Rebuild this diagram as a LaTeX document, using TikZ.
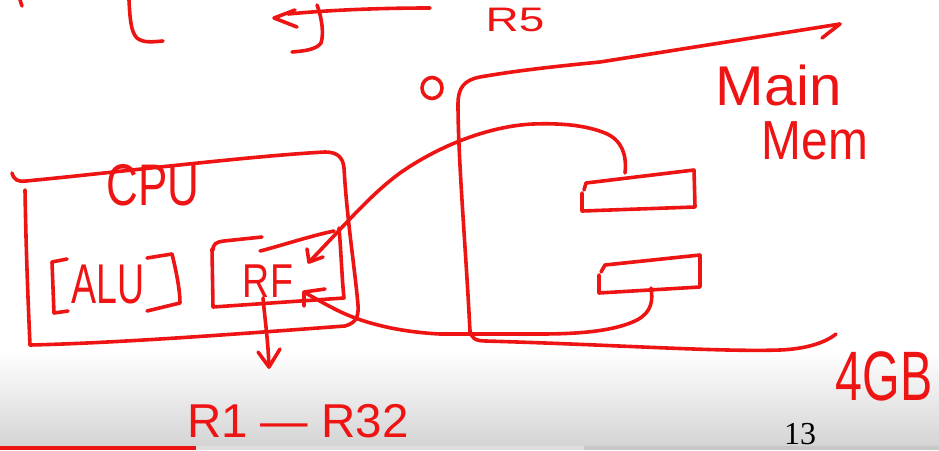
\documentclass[tikz,border=0pt]{standalone}
\usepackage{graphicx}
\usepackage{fontspec}
\setmainfont{Liberation Sans}
\newfontfamily\pagefont{Liberation Serif}
\definecolor{penred}{RGB}{238,20,20}
\definecolor{shadegray}{RGB}{212,212,212}
\definecolor{barlight}{RGB}{222,222,222}
\definecolor{bardark}{RGB}{200,200,200}
\newcommand\myhw[3]{\fontsize{#1}{#1}\selectfont\scalebox{#2}[1]{#3}}
\begin{document}
\begin{tikzpicture}[x=1pt,y=-1pt,
  pen/.style={draw=penred,line width=3.6pt,line cap=round,line join=round},
  hand/.style={text=penred,inner sep=0pt,anchor=base,text depth=0pt}]
\useasboundingbox (0,0) rectangle (939,450);
\clip (0,0) rectangle (939,450);
% background
\fill[white] (0,0) rectangle (939,450);
\shade[top color=white,bottom color=shadegray] (0,352) rectangle (939,446);
\fill[bardark] (0,446) rectangle (939,450);
\fill[barlight] (196,446) rectangle (584,450);
\fill[penred] (0,446) rectangle (196,450);

% named points
\coordinate (r5end) at (430,8);
\coordinate (r5tip) at (274,18);
\coordinate (upA) at (625,173);
\coordinate (rfInTip) at (309,262);
\coordinate (loA) at (651,288);
\coordinate (rfOutTip) at (304,292);
\coordinate (rfR) at (263,298);
\coordinate (regTip) at (269,367);

% top-left remnants
\draw[pen] (20,0) -- (22,6);
\draw[pen] (129,0) .. controls (130,20) and (131,32) .. (137,38) .. controls (143,43) and (152,42) .. (163,41);

% arrow towards R5
\draw[pen] (r5end) .. controls (380,8) and (330,10) .. (288,14);
\draw[pen] (295,10) -- (r5tip) -- (297,27);
\draw[pen] (317,5) .. controls (322,18) and (324,34) .. (321,43) .. controls (316,50) and (303,51) .. (292,52);

% small 0
\draw[pen] (432,88) ellipse [x radius=10, y radius=10.5];

% main memory outline
\draw[pen] (470,332) .. controls (466,250) and (458,160) .. (458,104)
  .. controls (458,88) and (464,80) .. (480,77)
  .. controls (520,70) and (560,66) .. (600,62) -- (840,24);
\draw[pen] (840,24) -- (822,38);
\draw[pen] (470,330) .. controls (471,338) and (475,341) .. (486,341)
  .. controls (620,345) and (720,352) .. (780,350)
  .. controls (805,349) and (825,343) .. (836,334);

% memory slots
\draw[pen] (584,190) -- (586,183) -- (694,170) -- (695,207) -- (582,211) -- (582,193);
\draw[pen] (601,272) -- (605,265) -- (700,255) -- (700,287) -- (599,293) -- (599,275);

% connectors between RF and memory
\draw[pen] (upA) .. controls (627,155) and (622,140) .. (605,133)
  .. controls (585,125) and (560,123) .. (533,124)
  .. controls (490,126) and (440,145) .. (400,173)
  .. controls (370,195) and (345,225) .. (rfInTip);
\draw[pen] (307,249) -- (rfInTip) -- (323,257);
\draw[pen] (loA) .. controls (653,300) and (652,312) .. (637,320)
  .. controls (615,331) and (580,334) .. (540,334)
  -- (440,334) .. controls (400,332) and (370,324) .. (350,316)
  .. controls (335,310) and (318,300) .. (rfOutTip);
\draw[pen] (325,289) -- (rfOutTip) -- (304,306);

% CPU box
\draw[pen] (12,173) .. controls (14,180) and (18,182) .. (26,181)
  .. controls (120,172) and (250,156) .. (325,152)
  .. controls (338,152) and (343,158) .. (344,168)
  .. controls (347,220) and (355,270) .. (358,305)
  .. controls (359,318) and (355,323) .. (345,326)
  .. controls (250,333) and (120,343) .. (30,345);
\draw[pen] (25,190) .. controls (26,250) and (28,300) .. (30,345);

% ALU brackets
\draw[pen] (67,259) -- (52,262) -- (54,313) -- (68,311);
\draw[pen] (147,258) -- (172,254) .. controls (176,270) and (180,290) .. (180,303) -- (147,311);

% RF box
\draw[pen] (213,250) .. controls (213,244) and (216,242) .. (224,241) -- (262,237);
\draw[pen] (260,251) .. controls (280,246) and (310,236) .. (334,231);
\draw[pen] (339,228) .. controls (341,250) and (342,280) .. (344,298) -- (213,307) -- (212,249);

% RF to registers arrow
\draw[pen] (rfR) .. controls (265,320) and (268,340) .. (regTip);
\draw[pen] (258,352) -- (regTip) -- (280,349);

% texts
\node[hand,text height=24pt] (r5) at (515,31.5) {\myhw{34}{1.35}{R5}};
\node[hand,text height=42pt] (cpu) at (153,205) {\myhw{58.7}{0.75}{CPU}};
\node[hand,text height=40pt] (alu) at (108,303) {\myhw{56}{0.67}{ALU}};
\node[hand,text height=34pt] (rf) at (268,297) {\myhw{47.5}{0.79}{RF}};
\node[hand,text height=34pt] (regs) at (298,437) {\myhw{47.5}{1}{R1 — R32}};
\node[hand,text height=40pt] (main) at (779,105) {\myhw{56}{1.04}{Main}};
\node[hand,text height=39pt] (mem) at (815,159) {\myhw{55}{0.87}{Mem}};
\node[hand,text height=50pt] (gb) at (884,400) {\myhw{70}{0.69}{4GB}};
\node[inner sep=0pt,anchor=base,text=black] (page) at (800,444) {\pagefont\fontsize{32}{32}\selectfont 13};
\end{tikzpicture}
\end{document}
